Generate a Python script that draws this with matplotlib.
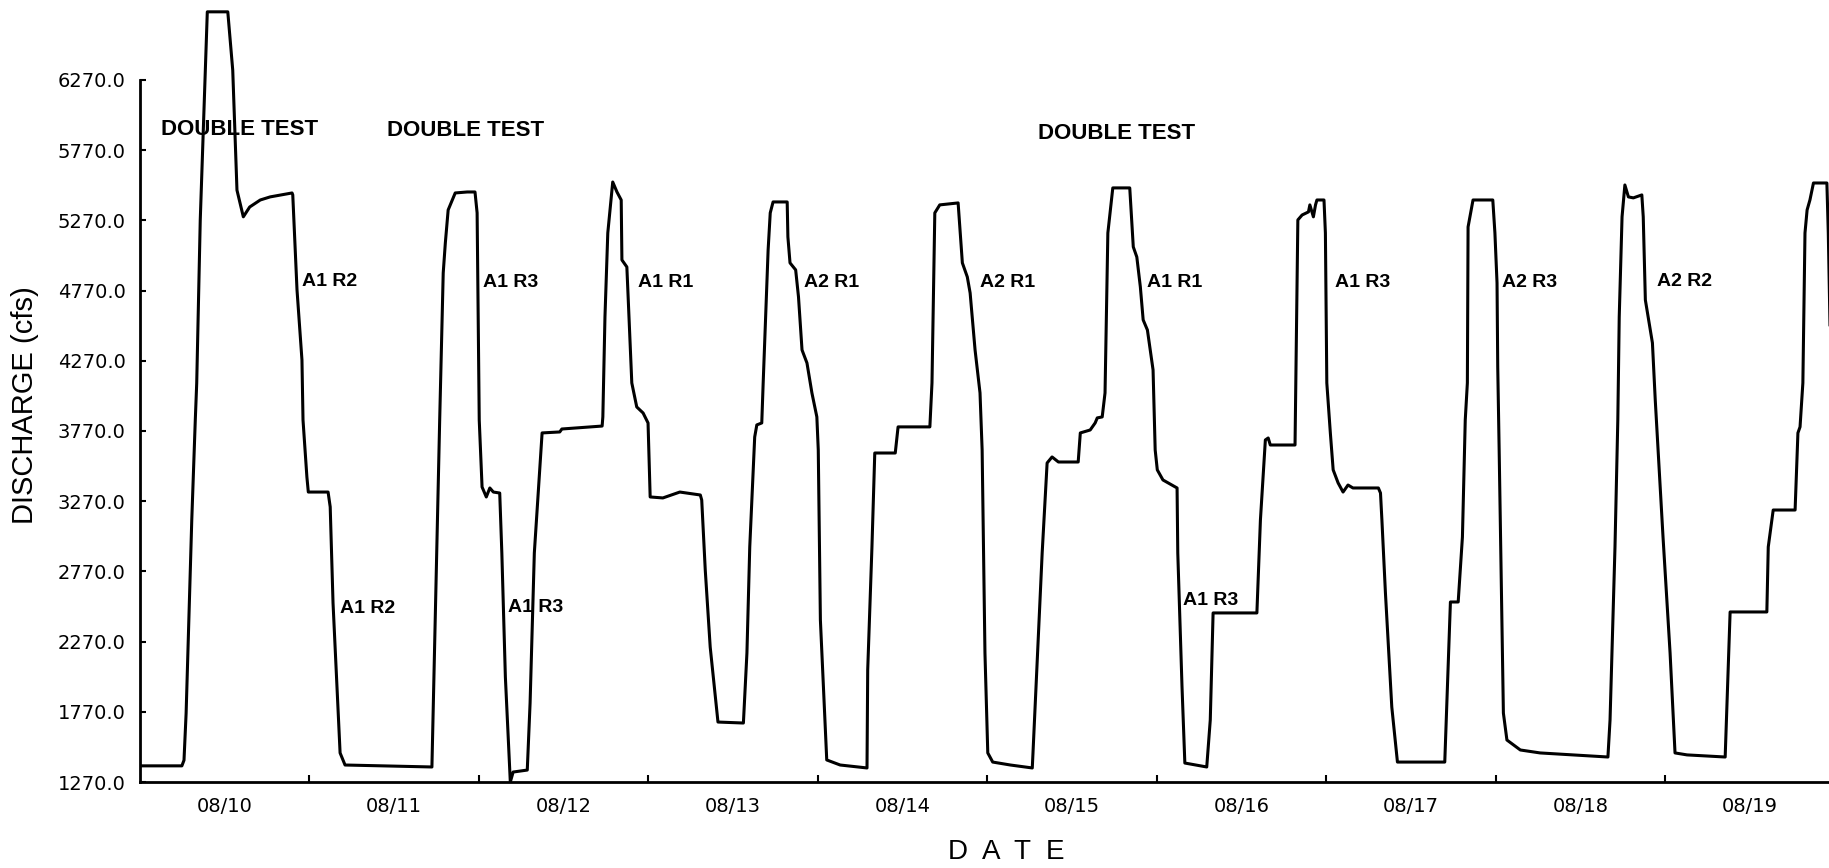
import matplotlib
matplotlib.use("Agg")
import matplotlib.pyplot as plt
from matplotlib.ticker import FixedLocator, NullFormatter

# ---- data (hours since 08/10 00:00, discharge in cfs) ----
hours = [0.0, 6.0, 6.3, 6.6, 7.4, 7.9, 8.1, 8.6, 9.6, 12.5, 13.2, 13.8, 14.7, 15.6, 17.1, 18.5,
         21.6, 21.7, 22.3, 23.0, 23.15, 23.7, 23.9, 26.7, 27.0, 27.4, 28.4, 29.1, 41.4,
         42.5, 43.0, 43.3, 43.7, 44.7, 46.4, 47.5, 47.8, 48.1, 48.5, 49.1, 49.6, 50.1, 51.0,
         51.3, 51.8, 52.5, 52.9, 54.9, 55.3, 55.9, 57.0, 59.5, 59.8, 65.5, 65.6, 65.9, 66.3,
         66.9, 67.0, 67.6, 68.2, 68.3, 69.0, 69.7, 70.4, 71.3, 72.0, 72.3, 74.1, 76.5, 79.4,
         79.6, 80.1, 80.8, 81.9, 85.5, 86.0, 86.4, 87.1, 87.4, 88.1, 88.3, 89.0, 89.3, 89.7,
         91.7, 91.8, 92.1, 92.9, 93.3, 93.8, 94.5, 95.2, 95.6, 95.9, 96.1, 96.4, 97.3, 99.2,
         103.0, 103.1, 103.7, 104.1, 107.0, 107.4,
         111.9, 112.2, 112.6, 113.3, 115.9, 116.2, 116.5, 117.2, 117.6, 118.3, 119.0, 119.3,
         119.7, 120.1, 120.8, 123.3, 126.4, 126.5, 127.8, 128.5, 129.2, 130.1, 132.9, 133.2,
         134.6, 135.3, 135.6, 136.3, 136.7, 137.1, 137.8, 140.2, 140.7, 141.2, 141.7, 142.1,
         142.7, 143.5, 143.8, 144.1, 144.9, 146.9, 147.0, 147.6, 148.0, 151.1, 151.6, 152.0,
         158.2, 158.7, 159.4, 159.8, 160.1, 163.6, 164.0, 164.6, 165.5, 165.7, 166.2, 166.5,
         166.7, 167.7, 167.9, 168.1, 168.6, 169.0, 169.7, 170.4, 171.1, 171.8, 175.4, 175.7,
         175.9, 176.4, 177.3, 178.1, 184.8,
         185.6, 186.7, 187.3, 187.7, 188.0, 188.1, 188.8, 191.6, 191.9, 192.2, 192.3, 192.5,
         193.1, 193.6, 195.5, 198.3, 203.0, 207.9, 208.2, 208.9, 209.3, 209.5, 209.9, 210.3,
         210.8, 211.5, 212.7, 212.9, 213.2, 213.6, 214.2, 214.6, 215.0, 215.7, 216.7, 217.4,
         219.1, 224.5, 225.2, 230.4, 230.6, 231.3, 234.4, 234.7, 234.8, 235.1, 235.5, 235.8,
         236.1, 236.5, 237.0, 238.9, 239.1, 239.4]

discharge = [1385, 1385, 1425, 1760, 3135, 3850, 4110, 5270, 6755, 6755, 6340, 5485, 5295, 5365,
             5415, 5437, 5465, 5451, 4775, 4276, 3848, 3442, 3335, 3335, 3229, 2545, 1477, 1391,
             1377, 3848, 4895, 5109, 5344, 5465, 5472, 5472, 5323, 3848, 3371, 3300, 3364, 3335,
             3328, 2901, 2018, 1270, 1341, 1355, 1833, 2901, 3756, 3763, 3784, 3805, 3870, 4582,
             5180, 5487, 5543, 5472, 5415, 4988, 4938, 4112, 3941, 3898, 3827, 3300, 3293, 3335,
             3314, 3278, 2780, 2231, 1697, 1690, 2189, 2944, 3727, 3813, 3827, 4112, 5059, 5323,
             5401, 5401, 5152, 4967, 4917, 4725, 4347, 4254, 4041, 3941, 3870, 3635, 2424, 1427,
             1391, 1370, 2068, 2944, 3613, 3613, 3799,
             3799, 4112, 5323, 5380, 5394, 5180, 4967, 4867, 4753, 4347, 4041, 3635, 2189, 1477,
             1412, 1391, 1370, 1477, 2901, 3542, 3585, 3549, 3549, 3756, 3777, 3827, 3863, 3870,
             4041, 5180, 5501, 5501, 5081, 5009, 4796, 4561, 4489, 4205, 3635, 3493, 3421, 3364,
             2901, 1947, 1405, 1377, 1712, 2474, 2474, 3136, 3706, 3720, 3670, 3670, 5273, 5308,
             5330, 5380, 5295, 5380, 5415, 5415, 5180, 4112, 3756, 3493, 3400, 3335, 3385, 3364,
             3364, 3328, 3136, 2616, 1804, 1412, 1412,
             2552, 2552, 3015, 3848, 4112, 5223, 5415, 5415, 5180, 4824, 4226, 3635,
             1761, 1569, 1498, 1477, 1463, 1448, 1712, 2944, 3848, 4582, 5295, 5522, 5437, 5430,
             5451, 5295, 4703, 4582, 4397, 3991, 3635, 3015, 2189, 1477, 1463, 1448, 2481, 2481,
             2944, 3207, 3207, 3613, 3756, 3799, 4112, 5180, 5344, 5415, 5536, 5536, 5180, 4368]

date_labels = ["08/10", "08/11", "08/12", "08/13", "08/14",
               "08/15", "08/16", "08/17", "08/18", "08/19"]
y_ticks = [1270, 1770, 2270, 2770, 3270, 3770, 4270, 4770, 5270, 5770, 6270]

double_test_text = ["DOUBLE TEST", "DOUBLE TEST", "DOUBLE TEST"]
double_test_pos = [(14.2, 5914), (46.2, 5907), (138.3, 5892)]

run_text = ["A1 R2", "A1 R2", "A1 R3", "A1 R3", "A1 R1", "A2 R1", "A2 R1",
            "A1 R1", "A1 R3", "A1 R3", "A2 R3", "A2 R2"]
run_pos = [(23.0, 4831), (28.4, 2509), (48.6, 4824), (52.2, 2516), (70.6, 4824),
           (94.1, 4824), (119.0, 4824), (142.7, 4824), (147.8, 2566), (169.3, 4824),
           (192.9, 4824), (214.9, 4831)]

# ---- figure ----
plt.rcParams["font.family"] = ["Liberation Sans", "DejaVu Sans"]
W, H = 1829, 868
fig = plt.figure(figsize=(W / 100, H / 100), dpi=100)
ax = fig.add_axes([139.5 / W, 1 - 782 / H, (W - 139.5) / W, (782 - 10) / H])

ax.plot(hours, discharge, color="black", lw=2.2, solid_joinstyle="round")

ax.set_xlim(0, 239.2)
ax.set_ylim(1270, 6768)

for s in ["top", "right"]:
    ax.spines[s].set_visible(False)
ax.spines["left"].set_bounds(1270, 6270)
ax.spines["left"].set_linewidth(2.0)
ax.spines["bottom"].set_linewidth(2.0)

# y axis
ax.set_yticks(y_ticks)
ax.set_yticklabels([f"{v:.1f}" for v in y_ticks], family="DejaVu Sans")
ax.tick_params(axis="y", direction="in", length=4, width=1.5, pad=10, labelsize=14)

# x axis: day boundaries as ticks, labels at noon
ax.xaxis.set_major_locator(FixedLocator([24 * i for i in range(1, 10)]))
ax.xaxis.set_major_formatter(NullFormatter())
ax.xaxis.set_minor_locator(FixedLocator([12 + 24 * i for i in range(10)]))
ax.set_xticklabels(date_labels, minor=True, family="DejaVu Sans")
ax.tick_params(axis="x", which="major", direction="in", length=5, width=1.5)
ax.tick_params(axis="x", which="minor", length=0, pad=11, labelsize=14)

fig.text(25 / W, 1 - 405 / H, "DISCHARGE (cfs)", rotation=90, ha="center", va="center",
         fontsize=21)
fig.text(1006 / W, 1 - 852 / H, "D  A  T  E", ha="center", va="center", fontsize=20)

for t, (x, y) in zip(double_test_text, double_test_pos):
    ax.text(x, y, t, ha="center", va="center", fontsize=16, fontweight="bold")
for t, (x, y) in zip(run_text, run_pos):
    ax.text(x, y, t, ha="left", va="center", fontsize=14, fontweight="bold")

fig.savefig("out.png", dpi=100)
